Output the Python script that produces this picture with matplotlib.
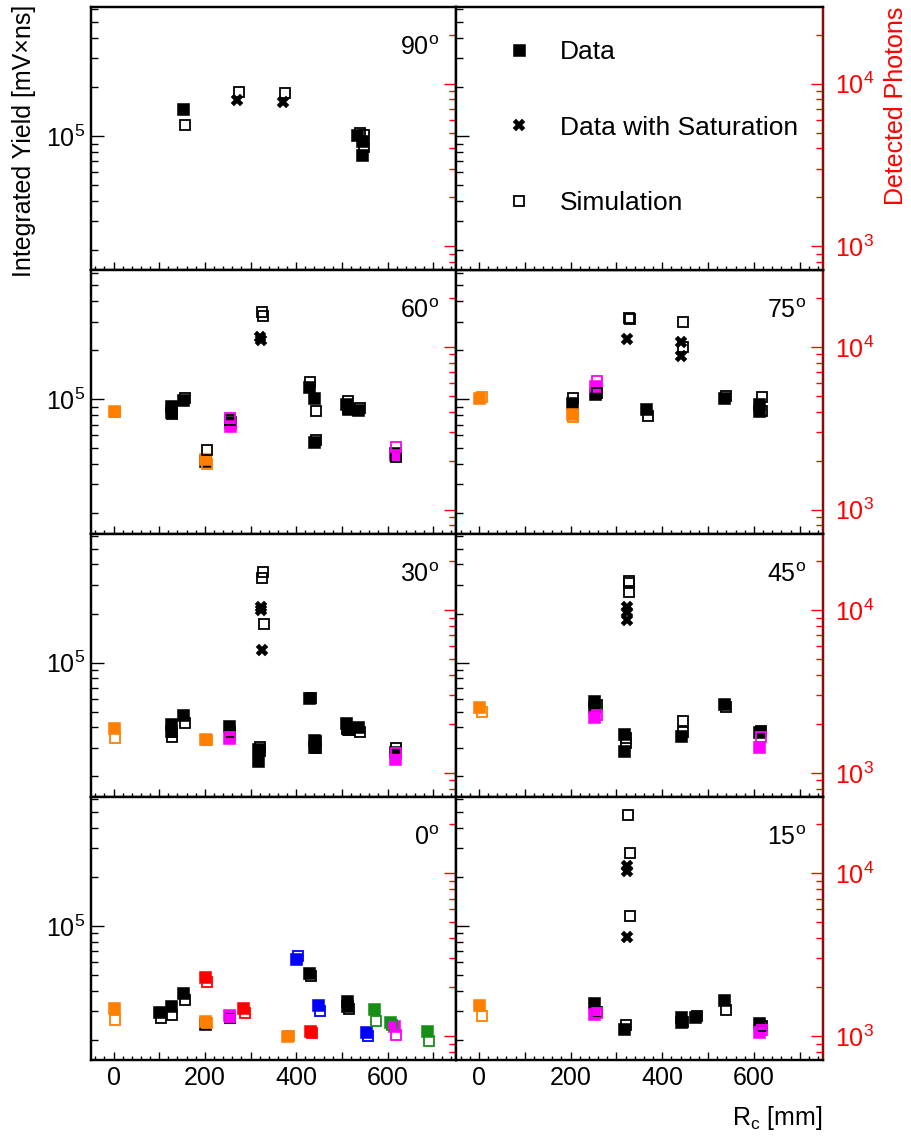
import matplotlib
matplotlib.use('Agg')
import matplotlib.pyplot as plt
from matplotlib.ticker import (LogLocator, MultipleLocator, NullFormatter,
                               FuncFormatter, LogFormatterSciNotation)
from matplotlib.lines import Line2D

plt.rcParams['font.family'] = ['Liberation Sans', 'DejaVu Sans']
plt.rcParams['mathtext.fontset'] = 'custom'
plt.rcParams['mathtext.rm'] = 'Liberation Sans'
plt.rcParams['mathtext.it'] = 'Liberation Sans:italic'
plt.rcParams['mathtext.bf'] = 'Liberation Sans:bold'

# ---------------- data ----------------
COLORS = {'k': '#000000', 'o': '#ff7f00', 'm': '#ff00ff',
          'r': '#ff0000', 'b': '#0000ff', 'g': '#178f17'}

YMIN, YMAX = 1.5e4, 6.2e5
PHOTON_FACTOR = 21.0   # integrated yield per detected photon
X_TICK_LABELS = [0, 200, 400, 600]

# 90 deg
P90_DATA_X = [152, 534, 545, 545]
P90_DATA_Y = [1.47e5, 1.01e5, 9.3e4, 7.65e4]
P90_DATA_C = ['k', 'k', 'k', 'k']
P90_SAT_X = [271, 371]
P90_SAT_Y = [1.66e5, 1.62e5]
P90_SIM_X = [156, 275, 375, 539, 549, 549]
P90_SIM_Y = [1.17e5, 1.86e5, 1.85e5, 1.04e5, 1.01e5, 8.6e4]
P90_SIM_C = ['k', 'k', 'k', 'k', 'k', 'k']

# 60 deg
P60_DATA_X = [0, 126, 126, 152, 200, 200, 254, 254, 429, 439, 439, 510, 514, 536, 616, 616]
P60_DATA_Y = [8.44e4, 9.15e4, 8.35e4, 9.86e4, 4.2e4, 4.3e4, 7.29e4, 6.83e4, 1.19e5, 1.02e5,
              5.5e4, 9.4e4, 8.75e4, 8.65e4, 4.7e4, 4.55e4]
P60_DATA_C = ['o', 'k', 'k', 'k', 'k', 'o', 'k', 'm', 'k', 'k', 'k', 'k', 'k', 'k', 'k', 'm']
P60_SAT_X = [321, 324]
P60_SAT_Y = [2.4e5, 2.3e5]
P60_SIM_X = [4, 128, 128, 156, 204, 205, 256, 256, 326, 328, 431, 444, 444, 514, 514, 539, 618, 618]
P60_SIM_Y = [8.4e4, 8.9e4, 8.1e4, 1.02e5, 4.89e4, 4.03e4, 7.47e4, 7.64e4, 3.43e5, 3.27e5,
             1.27e5, 8.44e4, 5.6e4, 9.8e4, 8.75e4, 8.8e4, 4.45e4, 5.12e4]
P60_SIM_C = ['o', 'k', 'k', 'k', 'k', 'o', 'k', 'm', 'k', 'k', 'k', 'k', 'k', 'k', 'k', 'k', 'k', 'm']

# 75 deg
P75_DATA_X = [0, 202, 202, 254, 254, 365, 535, 611, 611]
P75_DATA_Y = [1.02e5, 9.5e4, 8.13e4, 1.08e5, 1.2e5, 8.72e4, 1.02e5, 9.36e4, 8.44e4]
P75_DATA_C = ['o', 'k', 'o', 'k', 'm', 'k', 'k', 'k', 'k']
P75_SAT_X = [324, 441, 441]
P75_SAT_Y = [2.33e5, 2.24e5, 1.85e5]
P75_SIM_X = [7, 205, 205, 257, 257, 328, 330, 445, 445, 369, 538, 617, 617]
P75_SIM_Y = [1.04e5, 1.02e5, 7.75e4, 1.1e5, 1.3e5, 3.15e5, 3.12e5, 3.0e5, 2.09e5, 7.86e4,
             1.05e5, 1.03e5, 8.44e4]
P75_SIM_C = ['o', 'k', 'o', 'k', 'm', 'k', 'k', 'k', 'k', 'k', 'k', 'k', 'k']

# 30 deg
P30_DATA_X = [0, 126, 126, 152, 200, 253, 253, 316, 316, 428, 439, 439, 510, 514, 536, 616, 616]
P30_DATA_Y = [3.95e4, 4.2e4, 3.82e4, 4.79e4, 3.37e4, 4.06e4, 3.44e4, 2.94e4, 2.5e4, 6.06e4,
              3.35e4, 3.02e4, 4.24e4, 3.91e4, 4.0e4, 2.81e4, 2.56e4]
P30_DATA_C = ['o', 'k', 'k', 'k', 'o', 'k', 'm', 'k', 'k', 'k', 'k', 'k', 'k', 'k', 'k', 'k', 'm']
P30_SAT_X = [322, 324, 326]
P30_SAT_Y = [2.19e5, 2.09e5, 1.19e5]
P30_SIM_X = [4, 128, 128, 157, 205, 256, 256, 320, 320, 328, 326, 329, 432, 444, 444, 512,
             516, 539, 618, 618]
P30_SIM_Y = [3.46e4, 3.73e4, 3.47e4, 4.28e4, 3.35e4, 3.73e4, 3.5e4, 2.87e4, 3.05e4, 3.59e5,
             3.31e5, 1.73e5, 6.06e4, 3.3e4, 3.0e4, 3.9e4, 3.86e4, 3.73e4, 2.99e4, 2.8e4]
P30_SIM_C = ['o', 'k', 'k', 'k', 'o', 'k', 'm', 'k', 'k', 'k', 'k', 'k', 'k', 'k', 'k', 'k',
             'k', 'k', 'k', 'm']

# 45 deg
P45_DATA_X = [0, 252, 252, 252, 316, 316, 440, 535, 611, 611]
P45_DATA_Y = [5.31e4, 5.78e4, 5.31e4, 4.61e4, 3.64e4, 2.85e4, 3.52e4, 5.57e4, 3.73e4, 3.02e4]
P45_DATA_C = ['o', 'k', 'k', 'm', 'k', 'k', 'k', 'k', 'k', 'm']
P45_SAT_X = [324, 324, 324]
P45_SAT_Y = [2.19e5, 2.04e5, 1.83e5]
P45_SIM_X = [7, 257, 257, 320, 320, 328, 328, 328, 445, 445, 538, 615, 615]
P45_SIM_Y = [4.95e4, 5.5e4, 4.79e4, 3.43e4, 3.19e4, 3.19e5, 3.1e5, 2.71e5, 4.36e4, 3.73e4,
             5.37e4, 3.78e4, 3.47e4]
P45_SIM_C = ['o', 'k', 'm', 'k', 'k', 'k', 'k', 'k', 'k', 'k', 'k', 'k', 'm']

# 0 deg
P0_DATA_X = [0, 100, 125, 152, 200, 200, 200, 253, 283, 380, 399, 428, 430, 448, 512, 512,
             553, 570, 605, 614, 687]
P0_DATA_Y = [3.13e4, 2.94e4, 3.2e4, 3.87e4, 4.83e4, 2.5e4, 2.62e4, 2.85e4, 3.13e4, 2.1e4,
             6.27e4, 5.12e4, 2.26e4, 3.27e4, 3.44e4, 3.2e4, 2.22e4, 3.09e4, 2.56e4, 2.44e4, 2.25e4]
P0_DATA_C = ['o', 'k', 'k', 'k', 'r', 'k', 'o', 'm', 'r', 'o', 'b', 'k', 'r', 'b', 'k', 'k',
             'b', 'g', 'g', 'm', 'g']
P0_SAT_X = []
P0_SAT_Y = []
P0_SIM_X = [4, 104, 129, 157, 205, 205, 256, 256, 287, 385, 405, 432, 434, 452, 515, 557,
            575, 609, 618, 691]
P0_SIM_Y = [2.64e4, 2.73e4, 2.84e4, 3.48e4, 4.51e4, 2.52e4, 2.7e4, 2.75e4, 2.92e4, 2.1e4,
            6.57e4, 4.93e4, 2.19e4, 3.02e4, 3.09e4, 2.1e4, 2.62e4, 2.45e4, 2.15e4, 1.95e4]
P0_SIM_C = ['o', 'k', 'k', 'k', 'r', 'o', 'k', 'm', 'r', 'o', 'b', 'k', 'r', 'b', 'k', 'b',
            'g', 'g', 'm', 'g']

# 15 deg
P15_DATA_X = [0, 252, 252, 316, 440, 440, 472, 535, 611, 611]
P15_DATA_Y = [3.27e4, 3.37e4, 2.88e4, 2.33e4, 2.75e4, 2.58e4, 2.75e4, 3.48e4, 2.53e4, 2.24e4]
P15_DATA_C = ['o', 'k', 'm', 'k', 'k', 'k', 'k', 'k', 'k', 'm']
P15_SAT_X = [324, 322, 324]
P15_SAT_Y = [2.33e5, 2.16e5, 8.52e4]
P15_SIM_X = [7, 257, 257, 320, 325, 329, 329, 445, 475, 538, 617, 617]
P15_SIM_Y = [2.79e4, 2.96e4, 2.93e4, 2.46e4, 4.77e5, 2.81e5, 1.15e5, 2.55e4, 2.8e4, 3.06e4,
             2.43e4, 2.3e4]
P15_SIM_C = ['o', 'k', 'm', 'k', 'k', 'k', 'k', 'k', 'k', 'k', 'k', 'm']

PANELS = [
    # label, row, col, data x/y/c, sat x/y, sim x/y/c
    ('90', 0, 0, P90_DATA_X, P90_DATA_Y, P90_DATA_C, P90_SAT_X, P90_SAT_Y, P90_SIM_X, P90_SIM_Y, P90_SIM_C),
    ('60', 1, 0, P60_DATA_X, P60_DATA_Y, P60_DATA_C, P60_SAT_X, P60_SAT_Y, P60_SIM_X, P60_SIM_Y, P60_SIM_C),
    ('75', 1, 1, P75_DATA_X, P75_DATA_Y, P75_DATA_C, P75_SAT_X, P75_SAT_Y, P75_SIM_X, P75_SIM_Y, P75_SIM_C),
    ('30', 2, 0, P30_DATA_X, P30_DATA_Y, P30_DATA_C, P30_SAT_X, P30_SAT_Y, P30_SIM_X, P30_SIM_Y, P30_SIM_C),
    ('45', 2, 1, P45_DATA_X, P45_DATA_Y, P45_DATA_C, P45_SAT_X, P45_SAT_Y, P45_SIM_X, P45_SIM_Y, P45_SIM_C),
    ('0', 3, 0, P0_DATA_X, P0_DATA_Y, P0_DATA_C, P0_SAT_X, P0_SAT_Y, P0_SIM_X, P0_SIM_Y, P0_SIM_C),
    ('15', 3, 1, P15_DATA_X, P15_DATA_Y, P15_DATA_C, P15_SAT_X, P15_SAT_Y, P15_SIM_X, P15_SIM_Y, P15_SIM_C),
]

# ---------------- layout ----------------
W, H = 911, 1140
fig = plt.figure(figsize=(W / 100, H / 100), dpi=100)

COL_X = [(90.7, 456.0), (456.0, 822.7)]
TOP0, ROW_H = 7.0, 263.25
FS = 18
FS_LEG = 19
MS_FILLED = 8.0
MS_OPEN = 7.8
MS_SAT = 8.2


def make_axes(row, col):
    x0, x1 = COL_X[col]
    top = TOP0 + row * ROW_H
    ax = fig.add_axes([x0 / W, 1 - (top + ROW_H) / H, (x1 - x0) / W, ROW_H / H])
    ax.set_xlim(-50, 750)
    ax.set_yscale('log')
    ax.set_ylim(YMIN, YMAX)
    ax.xaxis.set_major_locator(MultipleLocator(100))
    ax.xaxis.set_minor_locator(MultipleLocator(20))
    if row == 3:
        ax.xaxis.set_major_formatter(FuncFormatter(
            lambda v, p: f'{int(round(v))}' if int(round(v)) in X_TICK_LABELS else ''))
    else:
        ax.xaxis.set_major_formatter(NullFormatter())
    ax.tick_params(axis='x', which='both', direction='in', top=False, bottom=True,
                   labelsize=FS, pad=4.5, width=1.0)
    ax.tick_params(axis='x', which='major', length=5.8)
    ax.tick_params(axis='x', which='minor', length=2.9)

    ax.yaxis.set_major_locator(LogLocator(base=10))
    ax.yaxis.set_minor_locator(LogLocator(base=10, subs=range(2, 10)))
    ax.yaxis.set_minor_formatter(NullFormatter())
    if col == 0:
        ax.yaxis.set_major_formatter(LogFormatterSciNotation())
    else:
        ax.yaxis.set_major_formatter(NullFormatter())
    ax.tick_params(axis='y', which='both', direction='in', left=True, right=False,
                   labelsize=FS, pad=4.0, width=1.0)
    ax.tick_params(axis='y', which='major', length=9.4)
    ax.tick_params(axis='y', which='minor', length=5.0)

    ax2 = ax.twinx()
    ax2.set_yscale('log')
    ax2.set_ylim(YMIN / PHOTON_FACTOR, YMAX / PHOTON_FACTOR)
    ax2.yaxis.set_major_locator(LogLocator(base=10))
    ax2.yaxis.set_minor_locator(LogLocator(base=10, subs=range(2, 10)))
    ax2.yaxis.set_minor_formatter(NullFormatter())
    if col == 1:
        ax2.yaxis.set_major_formatter(LogFormatterSciNotation())
    else:
        ax2.yaxis.set_major_formatter(NullFormatter())
    ax2.tick_params(axis='y', which='both', direction='in', colors='red',
                    labelsize=FS, pad=8.5, width=1.0)
    ax2.tick_params(axis='y', which='major', length=8.4)
    ax2.tick_params(axis='y', which='minor', length=5.0)

    for a in (ax, ax2):
        for s in a.spines.values():
            s.set_linewidth(1.6)
            s.set_color('black')
    if col == 1:
        ax2.spines['right'].set_color('#8c0a0a')
    return ax, ax2


for (lab, row, col, dx, dy, dc, sx, sy, mx, my, mc) in PANELS:
    ax, ax2 = make_axes(row, col)
    for x, y, c in zip(dx, dy, dc):
        ax.plot([x], [y], ls='none', marker='s', ms=MS_FILLED, mfc=COLORS[c],
                mec=COLORS[c], mew=0.4, zorder=3)
    if sx:
        ax.plot(sx, sy, ls='none', marker='X', ms=MS_SAT, mfc='black', mec='black',
                mew=0.3, zorder=4)
    for x, y, c in zip(mx, my, mc):
        ax.plot([x], [y], ls='none', marker='s', ms=MS_OPEN, mfc='none',
                mec=COLORS[c], mew=1.3, zorder=5)
    ax.text(1 - 17.0 / 366, 1 - 48.0 / ROW_H, lab + r'$^{\mathrm{o}}$',
            transform=ax.transAxes, ha='right', va='baseline', fontsize=FS)

# legend panel (top right)
axl, axl2 = make_axes(0, 1)
handles = [
    Line2D([], [], ls='none', marker='s', ms=MS_FILLED, mfc='black', mec='black', mew=0.4),
    Line2D([], [], ls='none', marker='X', ms=MS_SAT, mfc='black', mec='black', mew=0.3),
    Line2D([], [], ls='none', marker='s', ms=MS_OPEN, mfc='none', mec='black', mew=1.3),
]
axl.legend(handles, ['Data', 'Data with Saturation', 'Simulation'],
           loc='upper left', bbox_to_anchor=((506.0 - 456) / 366.7, 1 - 33 / ROW_H),
           frameon=False, fontsize=FS_LEG, labelspacing=1.96, handlelength=1.0,
           handletextpad=1.05, borderaxespad=0, borderpad=0)

# axis titles
fig.text(24 / W, 1 - 5 / H, 'Integrated Yield [mV\u00d7ns]', rotation=90,
         ha='center', va='top', fontsize=FS)
fig.text(896 / W, 1 - 7 / H, 'Detected Photons', rotation=90, color='red',
         ha='center', va='top', fontsize=FS)
fig.text(822.7 / W, 1 - 1125 / H, r'R$_{\mathrm{c}}$ [mm]', ha='right', va='baseline',
         fontsize=FS)

fig.savefig('out.png', dpi=100)
